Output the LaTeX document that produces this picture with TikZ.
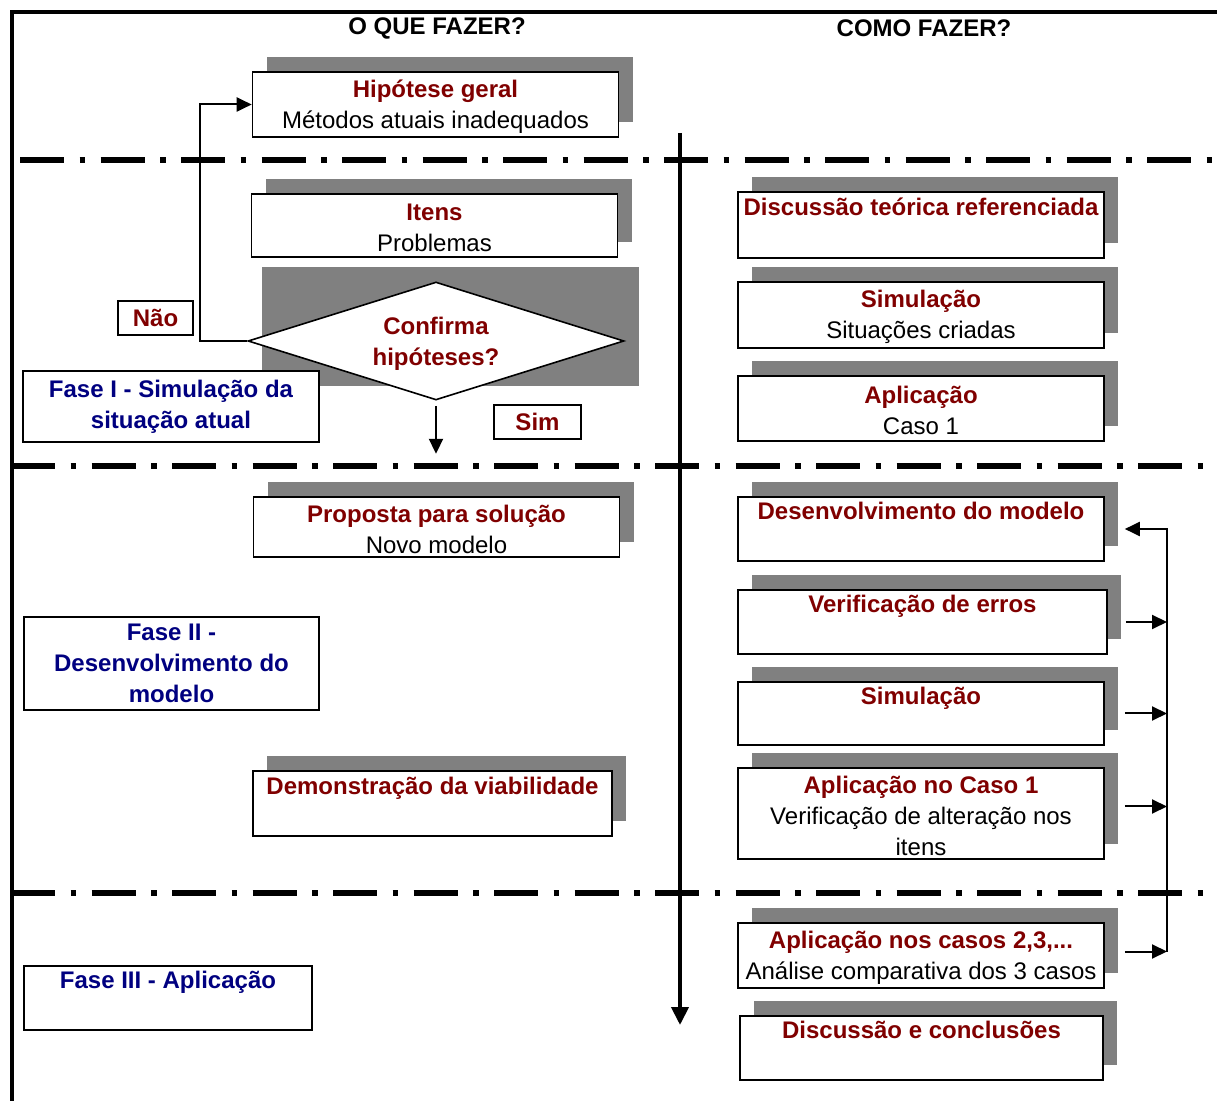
\documentclass[tikz,border=0pt]{standalone}
\usepackage{fontspec}
\setmainfont{Liberation Sans}
\usepackage{tikz}
\usetikzlibrary{positioning}
\usetikzlibrary{shapes.geometric}
\usetikzlibrary{arrows.meta}
\usetikzlibrary{calc}
\usetikzlibrary{shadows}
\usepackage{xcolor}
\definecolor{titlered}{RGB}{128,0,0}
\definecolor{phaseblue}{RGB}{0,0,128}
\definecolor{shadowgray}{RGB}{128,128,128}
\newcommand{\boxtitle}[1]{\strut\textcolor{titlered}{\bfseries #1}}
\newcommand{\phasetitle}[1]{\strut\textcolor{phaseblue}{\bfseries #1}}

\begin{document}
\begin{tikzpicture}[
  x=0.5pt, y=-0.5pt,
  font=\fontsize{12}{15.5}\selectfont,
  box/.style={draw, fill=white, line width=0.8pt, align=center, inner sep=0pt,
    minimum width=183pt, minimum height=32.5pt},
  shadowbox/.style={box, drop shadow={shadow xshift=7pt, shadow yshift=7.5pt,
    fill=shadowgray, opacity=1}},
  tag/.style={draw, fill=white, line width=0.8pt, align=center, inner sep=0pt},
  flow/.style={line width=1pt, -{Triangle[length=7.5pt, width=7pt]}},
  phaseline/.style={line width=3pt, dash pattern=on 22pt off 7.75pt on 2.75pt off 7.75pt}
]
\useasboundingbox (0,0) rectangle (1217,1101);

% Frame
\draw[line width=2pt] (1217,12) -- (12,12) -- (12,1101);

% Column headers
\node (oque) at (437,28) {\textbf{O QUE FAZER?}};
\node (como) at (924,28) {\textbf{COMO FAZER?}};

% Phase separators
\draw[phaseline] (20,160) -- (1217,160);
\draw[phaseline] (11,466) -- (1217,466);
\draw[phaseline] (11,893) -- (1217,893);

% Left column: what to do
\node[shadowbox] (hip) at (435.5,104.5)
  {\boxtitle{Hipótese geral}\\ Métodos atuais inadequados};
\node[shadowbox, minimum height=31.5pt] (itens) at (434.5,225.5)
  {\boxtitle{Itens}\\ Problemas};

\fill[shadowgray] (262,267) rectangle (639,386);
\node[draw, fill=white, diamond, aspect=3.19, line width=0.8pt, inner sep=0pt,
  minimum width=188pt, minimum height=59pt, align=center] (conf) at (436,341)
  {\rule{0pt}{13.5pt}\textcolor{titlered}{\bfseries Confirma}\\ \boxtitle{hipóteses?}};

\node[tag, minimum width=37.5pt, minimum height=17pt] (nao) at (155.5,318)
  {\textcolor{titlered}{\bfseries Não}};
\node[tag, minimum width=43.5pt, minimum height=17pt] (sim) at (537.5,422)
  {\textcolor{titlered}{\bfseries Sim}};
\node[tag, minimum width=148pt, minimum height=35.5pt] (fase1) at (171,406.5)
  {\phasetitle{Fase I - Simulação da}\\ \phasetitle{situação atual}};

\node[shadowbox, minimum height=30pt] (prop) at (436.5,527)
  {\boxtitle{Proposta para solução}\\ Novo modelo};
\node[tag, minimum width=147.5pt, minimum height=46.5pt] (fase2) at (171.5,663.5)
  {\textcolor{phaseblue}{\bfseries Fase II -}\\ \phasetitle{Desenvolvimento do}\\
   \textcolor{phaseblue}{\bfseries modelo}};
\node[shadowbox, minimum width=179.5pt] (demo) at (432.5,803.5)
  {\boxtitle{Demonstração da viabilidade}\\ \strut};
\node[tag, minimum width=144pt, minimum height=32pt] (fase3) at (168,998)
  {\phasetitle{Fase III - Aplicação}\\ \strut};

% Right column: how to do it
\node[shadowbox, minimum height=33pt] (disc) at (921,225)
  {\boxtitle{Discussão teórica referenciada}\\ \strut};
\node[shadowbox, minimum height=33pt] (simA) at (921,315)
  {\boxtitle{Simulação}\\ Situações criadas};
\node[shadowbox] (apl) at (921,408.5)
  {\boxtitle{Aplicação}\\ Caso 1};
\node[shadowbox, minimum height=32pt] (desenv) at (921,529)
  {\boxtitle{Desenvolvimento do modelo}\\ \strut};
\node[shadowbox, minimum width=184.5pt, minimum height=32pt] (verif) at (922.5,622)
  {\boxtitle{Verificação de erros}\\ \strut};
\node[shadowbox, minimum height=31.5pt] (simB) at (921,713.5)
  {\boxtitle{Simulação}\\ \strut};
\node[shadowbox, minimum height=45.5pt] (aplc1) at (921,813.5)
  {\boxtitle{Aplicação no Caso 1}\\ Verificação de alteração nos\\ itens};
\node[shadowbox] (aplcs) at (921,955.5)
  {\boxtitle{Aplicação nos casos 2,3,...}\\ Análise comparativa dos 3 casos};
\node[shadowbox, minimum width=181.5pt, minimum height=32pt] (concl) at (921.5,1048)
  {\boxtitle{Discussão e conclusões}\\ \strut};

% Decision loop
\draw[flow] (conf.west) -- ++(-47,0) |- (hip.west);
\draw[flow] ([yshift=-2.5pt]conf.south) -- ++(0,48);

% Main timeline
\coordinate (axtop) at (680,133);
\coordinate (axbot) at (680,1025);
\draw[line width=2pt, -{Triangle[length=9pt, width=8.5pt]}] (axtop) -- (axbot);

% Feedback to model development
\coordinate (loop) at (1167,0);
\draw[flow] ([xshift=9pt]verif.east) -- (verif.east -| loop);
\draw[flow] ([xshift=10pt]simB.east) -- (simB.east -| loop);
\draw[flow] ([xshift=10pt,yshift=3.5pt]aplc1.east) -- ([yshift=3.5pt]aplc1.east -| loop);
\draw[flow] ([xshift=10pt,yshift=2pt]aplcs.east) -- ([yshift=2pt]aplcs.east -| loop);
\draw[flow] ([yshift=2pt]aplcs.east -| loop) -- (desenv.east -| loop)
  -- ([xshift=10pt]desenv.east);
\end{tikzpicture}
\end{document}
